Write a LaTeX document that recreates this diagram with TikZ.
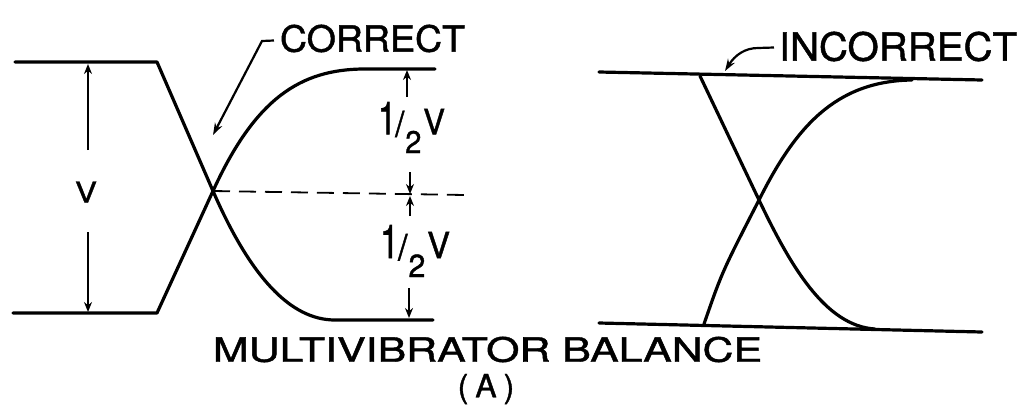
\documentclass[tikz,border=0pt]{standalone}
\usepackage{fontspec}
\setmainfont{TeX Gyre Heros}[FakeBold=1.2]
\usetikzlibrary{arrows.meta}
\newcommand\halfv{\fontsize{36}{36}\selectfont\scalebox{1}[1.3]{1}\kern-1pt\raisebox{-2pt}{/}\kern1pt\raisebox{-19pt}{\fontsize{32}{32}\selectfont 2}\kern2pt V}
\begin{document}
\begin{tikzpicture}[x=1pt,y=-1pt,
  wave/.style={line width=3.2pt,line cap=round,line join=round},
  dim/.style={line width=1.8pt,-{Stealth[length=10pt,width=8pt]}},
  lead/.style={line width=2.2pt,-{Stealth[length=12pt,width=8pt]}},
  lbl/.style={inner sep=0pt,outer sep=0pt}]
\useasboundingbox (0,0) rectangle (1025,413);
% ---------- left: correct ----------
\coordinate (TL) at (15,62);
\coordinate (TLk) at (157,62);
\coordinate (BL) at (13,313);
\coordinate (BLk) at (157,313);
\coordinate (X) at (213,191);
\coordinate (TRs) at (365,69);
\coordinate (TR) at (435,69);
\coordinate (BRs) at (335,320);
\coordinate (BR) at (433,320);
\draw[wave] (TL) -- (TLk) -- (X) .. controls (250,276) and (290,320) .. (BRs) -- (BR);
\draw[wave] (BL) -- (BLk) -- (X) .. controls (255,99) and (300,69) .. (TRs) -- (TR);
\coordinate (DE) at (465,195);
\draw[line width=1.8pt,dash pattern=on 17pt off 9pt] (X) -- (DE);
% V dimension
\node[lbl] (V) at (86,192) {\resizebox{22pt}{21pt}{V}};
\coordinate (Va) at (88,150);
\coordinate (Vt) at (88,64);
\coordinate (Vb0) at (88,232);
\coordinate (Vb) at (88,312);
\draw[dim] (Va) -- (Vt);
\draw[dim] (Vb0) -- (Vb);
% half-V dimensions
\node[lbl] (H1) at (411.5,127.5) {\resizebox*{67pt}{51pt}{\halfv}};
\node[lbl] (H2) at (415,251) {\resizebox*{70pt}{52pt}{\halfv}};
\coordinate (A1s) at (407,97);
\coordinate (A1t) at (407,70);
\coordinate (A2s) at (410,172);
\coordinate (A2t) at (410,194);
\coordinate (A3s) at (410,216);
\coordinate (A3t) at (410,196);
\coordinate (A4s) at (409,288);
\coordinate (A4t) at (409,318);
\draw[dim] (A1s) -- (A1t);
\draw[dim] (A2s) -- (A2t);
\draw[dim] (A3s) -- (A3t);
\draw[dim] (A4s) -- (A4t);
% CORRECT label
\node[lbl] (C) at (372.5,38.5) {\resizebox{185pt}{27pt}{CORRECT}};
\coordinate (Ch) at (262,41);
\coordinate (Ct) at (213,135);
\draw[lead] (C.west) ++(-6,2) coordinate (Cs) -- (Ch) -- (Ct);
% ---------- right: incorrect ----------
\coordinate (RTL) at (599,72);
\coordinate (RTR) at (982,80);
\coordinate (RBL) at (599,323);
\coordinate (RBR) at (982,332);
\draw[wave] (RTL) -- (RTR);
\draw[wave] (RBL) -- (RBR);
\coordinate (RX) at (759,200);
\coordinate (RD0) at (700,76);
\coordinate (RD1) at (875,329);
\coordinate (RA0) at (704,324);
\coordinate (RA1) at (912,80);
\draw[wave] (RD0) -- (RX) .. controls (790,265) and (825,326) .. (RD1);
\draw[wave] (RA0) .. controls (722,272) .. (RX) .. controls (795,128) and (835,81) .. (RA1);
% INCORRECT label
\node[lbl] (IC) at (898,46.5) {\resizebox{238pt}{29pt}{INCORRECT}};
\coordinate (Ih) at (758,48);
\coordinate (It) at (725,71);
\draw[lead] (IC.west) ++(-5,1) coordinate (Is) -- (Ih) .. controls (745,48) and (735,55) .. (It);
% ---------- caption ----------
\node[lbl] (T) at (487.5,349.5) {\resizebox{549pt}{25pt}{MULTIVIBRATOR BALANCE}};
\node[lbl] (A) at (486,389) {\fontsize{32}{32}\selectfont(\hspace{7pt}A\hspace{7pt})};
\end{tikzpicture}
\end{document}
